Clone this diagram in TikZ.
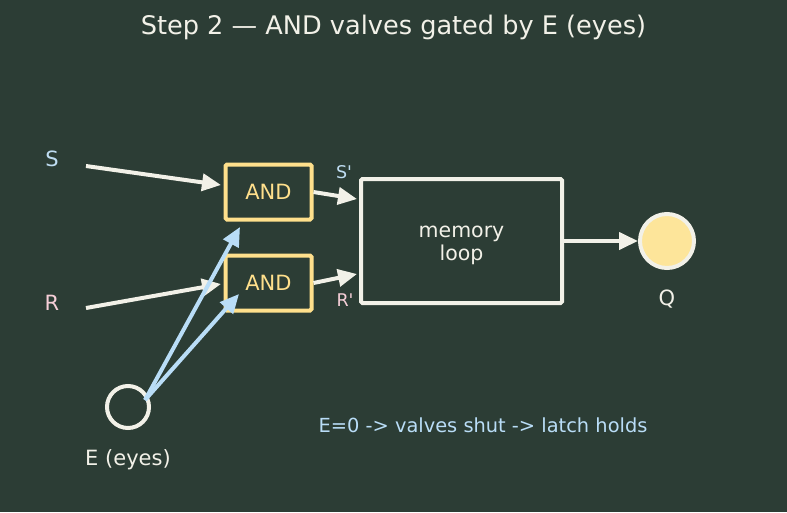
\documentclass[tikz,border=0pt]{standalone}
\usepackage{fontspec}
\setmainfont{DejaVu Sans}
\usetikzlibrary{arrows.meta}
\definecolor{bg}{HTML}{2C3D35}
\definecolor{wht}{HTML}{F2F1E8}
\definecolor{ylw}{HTML}{FFE08C}
\definecolor{qfill}{HTML}{FDE59A}
\definecolor{lblue}{HTML}{B9DDF7}
\definecolor{spink}{HTML}{F6CFD8}
\definecolor{sblue}{HTML}{BFDDF2}
\tikzset{
  x=1pt,y=-1pt,
  arr/.style={line width=4pt,-{Triangle[length=19pt,width=17pt]},wht},
  barr/.style={line width=4pt,-{Triangle[length=19pt,width=17pt]},lblue},
  andbox/.style={draw=ylw,line width=4pt,minimum width=86pt,minimum height=55pt,rounded corners=1.5pt,text=ylw,font=\fontsize{21}{24}\selectfont,inner sep=0pt},
  lbl/.style={font=\fontsize{21}{24}\selectfont},
  slbl/.style={font=\fontsize{17.5}{20}\selectfont}
}
\begin{document}
\begin{tikzpicture}
\fill[bg] (0,0) rectangle (787,512);
\useasboundingbox (0,0) rectangle (787,512);
\node[text=wht,font=\fontsize{25.6}{30}\selectfont] (title) at (393.5,27) {Step 2 — AND valves gated by E (eyes)};
\node[lbl,text=sblue] (S) at (52,159) {S};
\node[lbl,text=spink] (R) at (52,303) {R};
\coordinate (s0) at (86,166);
\coordinate (r0) at (86,308);
\node[andbox] (and1) at (268.5,192) {AND};
\node[andbox] (and2) at (268.5,283) {AND};
\node[slbl,text=sblue] (Sp) at (344,172) {S\textquotesingle};
\node[slbl,text=spink] (Rp) at (345,300) {R\textquotesingle};
\node[draw=wht,line width=4pt,minimum width=201pt,minimum height=124pt,rounded corners=1.5pt,inner sep=0pt] (mem) at (461.5,241) {};
\node[text=wht,align=center,font=\fontsize{20.5}{23}\selectfont,inner sep=0pt] (memtxt) at (461.5,245) {memory\\loop};
\node[circle,draw=wht,fill=qfill,line width=4pt,minimum size=54pt,inner sep=0pt] (Q) at (667,241) {};
\node[lbl,text=wht] (Ql) at (667,299) {Q};
\node[circle,draw=wht,line width=4pt,minimum size=42pt,inner sep=0pt] (E) at (128,407) {};
\node[lbl,text=wht] (El) at (128,460) {E (eyes)};
\node[text=lblue,font=\fontsize{19.4}{22}\selectfont] (note) at (483,425) {E=0 -> valves shut -> latch holds};
\coordinate (e0) at (145,400);
\draw[arr] (s0) -- (221,185);
\draw[arr] (r0) -- (221,284);
\draw[arr] (and1.east) -- (357,199);
\draw[arr] (and2.east) -- (357,274);
\draw[arr] (mem.east) -- (Q.west);
\draw[barr] (e0) -- (240,227);
\draw[barr] (e0) -- (239,294);
\end{tikzpicture}
\end{document}
